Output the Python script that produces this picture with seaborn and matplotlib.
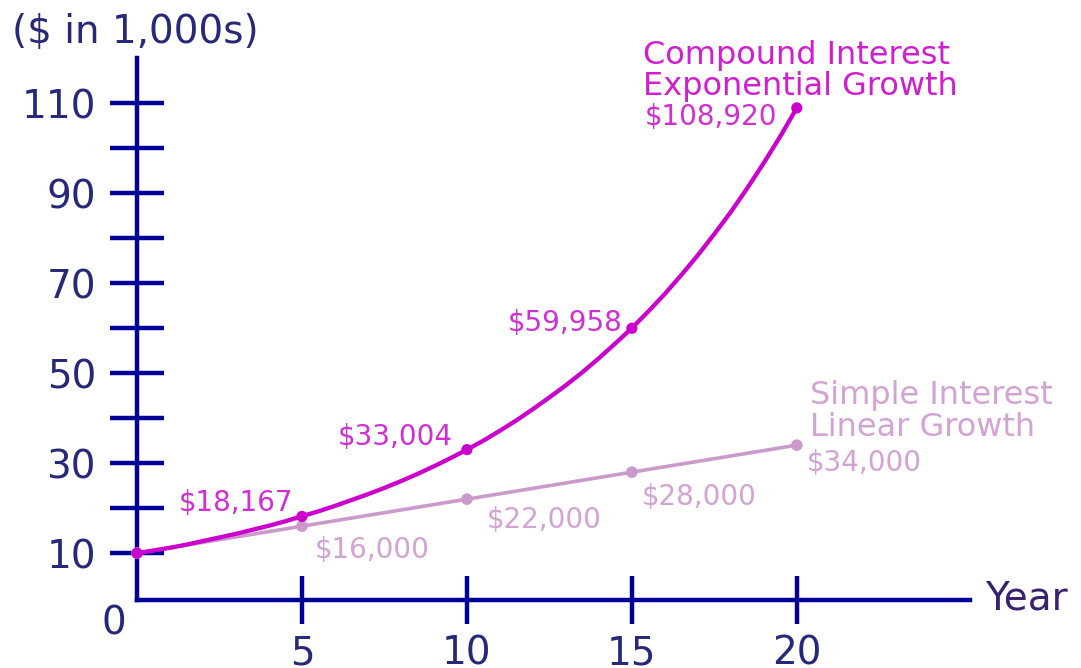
import seaborn as sns
import matplotlib.pyplot as plt

# values at the marked points ($ in 1,000s)
years = [0, 5, 10, 15, 20]
compound = [10, 18.167, 33.004, 59.958, 108.92]
simple = [10, 16, 22, 28, 34]
compound_labels = ["$18,167", "$33,004", "$59,958", "$108,920"]
simple_labels = ["$16,000", "$22,000", "$28,000", "$34,000"]

# compound curve, one reading every half year
curve_years = [i / 2 for i in range(41)]
curve_values = [10, 10.6, 11.2, 11.9, 12.7, 13.5, 14.3, 15.2, 16.1, 17.1,
                18.2, 19.3, 20.5, 21.8, 23.1, 24.5, 26.0, 27.6, 29.3, 31.1,
                33.0, 35.0, 37.2, 39.5, 42.0, 44.6, 47.3, 50.2, 53.3, 56.6,
                60.0, 63.7, 67.6, 71.8, 76.2, 80.9, 85.8, 91.1, 96.7, 102.6,
                108.9]

y_ticks = list(range(10, 120, 10))
y_ticklabels = ["10", "", "30", "", "50", "", "70", "", "90", "", "110"]
x_ticks = [5, 10, 15, 20]

NAVY = "#000099"
TEXT = "#28287a"
MAGENTA = "#cc00cc"
LILAC = "#cc99cc"

sns.set_style("white")
plt.rcParams["font.family"] = ["DejaVu Sans"]

fig = plt.figure(figsize=(10.81, 6.68), dpi=100)
ax = fig.add_axes([137 / 1081, 68 / 668, 833 / 1081, 542 / 668])

sns.lineplot(x=years, y=simple, color=LILAC, lw=2.6, ax=ax, zorder=2)
sns.scatterplot(x=years, y=simple, color=LILAC, s=70, edgecolor="none",
                ax=ax, zorder=3, clip_on=False)
sns.lineplot(x=curve_years, y=curve_values, color=MAGENTA, lw=3.1, ax=ax, zorder=4)
sns.scatterplot(x=years, y=compound, color=MAGENTA, s=65, edgecolor="none",
                ax=ax, zorder=5, clip_on=False)

ax.set_xlim(0, 25.25)
ax.set_ylim(-0.4, 120)
ax.set_xlabel("")
ax.set_ylabel("")

for side in ["top", "right"]:
    ax.spines[side].set_visible(False)
for side in ["left", "bottom"]:
    ax.spines[side].set_color(NAVY)
    ax.spines[side].set_linewidth(3.2)

ax.set_yticks(y_ticks)
ax.set_yticklabels(y_ticklabels)
ax.set_xticks(x_ticks)
ax.set_xticklabels([str(x) for x in x_ticks])
ax.tick_params(axis="y", left=True, direction="inout", length=39, width=3.2,
               color=NAVY, pad=10, labelsize=28, labelcolor=TEXT)
ax.tick_params(axis="x", bottom=True, direction="inout", length=34, width=3.2,
               color=NAVY, pad=8, labelsize=28, labelcolor=TEXT)

# point labels
comp_pos = [(4.73, 21.1), (9.58, 35.8), (14.73, 61.1), (19.42, 106.9)]
for (x, y), lab in zip(comp_pos, compound_labels):
    ax.text(x, y, lab, ha="right", va="center", fontsize=20, color="#d22fd2",
            parse_math=False)
simp_pos = [(5.39, 10.7), (10.6, 17.3), (15.3, 22.4), (20.3, 30.0)]
for (x, y), lab in zip(simp_pos, simple_labels):
    ax.text(x, y, lab, ha="left", va="center", fontsize=20, color="#d3a3d3",
            parse_math=False)

ax.text(15.33, 120.6, "Compound Interest", ha="left", va="center",
        fontsize=23, color="#d01fd0", clip_on=False)
ax.text(15.33, 113.6, "Exponential Growth", ha="left", va="center",
        fontsize=23, color="#d01fd0", clip_on=False)
ax.text(20.4, 45.0, "Simple Interest", ha="left", va="center",
        fontsize=23, color="#d3a3d3")
ax.text(20.4, 38.0, "Linear Growth", ha="left", va="center",
        fontsize=23, color="#d3a3d3")

ax.text(-0.7, -5.6, "0", ha="center", va="center", fontsize=28,
        color=TEXT, clip_on=False)
ax.text(25.7, 0, "Year", ha="left", va="center", fontsize=28,
        color="#3a2170", clip_on=False)
fig.text(12 / 1081, 1 - 32 / 668, "($ in 1,000s)", ha="left", va="center",
         fontsize=28, color=TEXT, parse_math=False)

fig.savefig("out.png", dpi=100)
